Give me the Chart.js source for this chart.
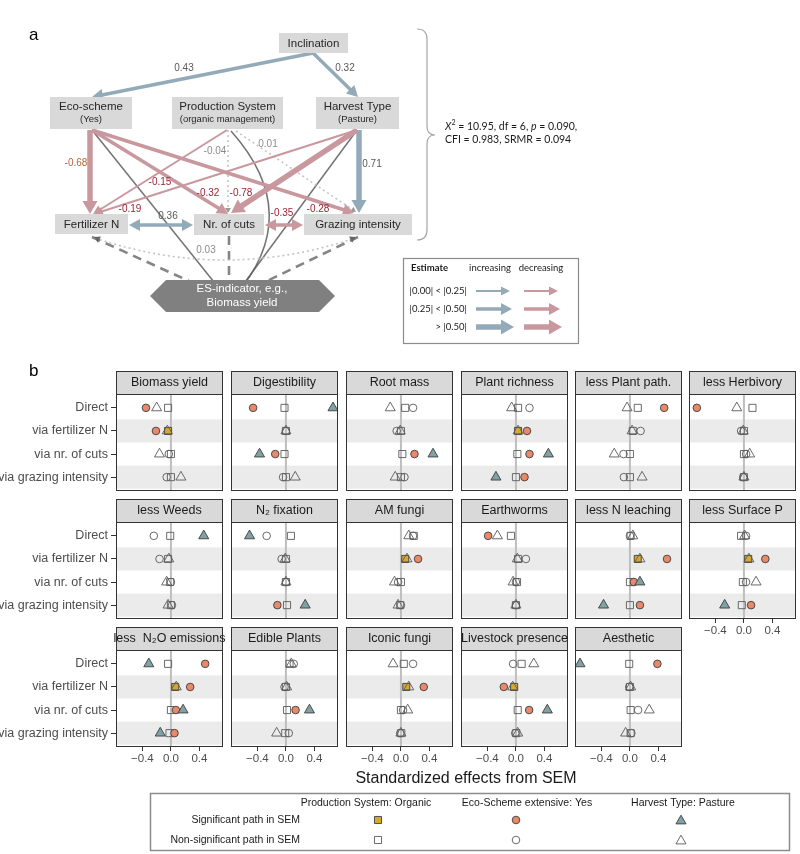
<!DOCTYPE html>
<html>
<head>
<meta charset="utf-8">
<script src="https://cdn.jsdelivr.net/npm/chart.js@4.4.1/dist/chart.umd.min.js"></script>
<style>
  body { margin: 0; background: #fff; width: 800px; height: 854px; position: relative; overflow: hidden; }
  canvas { position: absolute; }
</style>
</head>
<body>
<canvas id="page" width="800" height="854" style="left:0;top:0;width:800px;height:854px"></canvas>
<script>
const FONT = '"Liberation Sans", Arial, sans-serif';
const FIT_FONT = 'Lato, "Open Sans", sans-serif';

// ---- part a: SEM path estimates ----
const pathLabels = ['Incl-Eco', 'Incl-Harv', 'Eco-Fert', 'Eco-Cuts', 'Eco-Graz', 'Prod-Fert', 'Prod-Cuts', 'Prod-Graz', 'Harv-Fert', 'Harv-Cuts', 'Harv-Graz'];
const pathEstimates = [0.43, 0.32, -0.68, -0.32, -0.28, -0.15, -0.04, 0.01, -0.19, -0.78, 0.71];
const pathSig = [1, 1, 1, 1, 1, 1, 0, 0, 1, 1, 1];
const covLabels = ['Fert-Cuts', 'Cuts-Graz', 'Fert-Graz'];
const covEstimates = [0.36, -0.35, 0.03];
const covSig = [1, 1, 0];

// ---- part b: standardized effects ----
const rowLabels = ['Direct', 'via fertilizer N', 'via nr. of cuts', 'via grazing intensity'];
const services = ['Biomass yield', 'Digestibility', 'Root mass', 'Plant richness', 'less Plant path.', 'less Herbivory',
  'less Weeds', 'N\u2082 fixation', 'AM fungi', 'Earthworms', 'less N leaching', 'less Surface P',
  'less  N\u2082O emissions', 'Edible Plants', 'Iconic fungi', 'Livestock presence', 'Aesthetic'];
const xTicks = [-0.4, 0, 0.4];

// Production System: Organic (square)
const organicEff = [
  [-0.04, -0.04, 0.00, 0.00], [-0.02, 0.00, -0.02, 0.00], [0.06, 0.00, 0.02, 0.00], [0.03, 0.03, 0.02, 0.00],
  [0.11, 0.04, 0.00, 0.00], [0.12, 0.00, 0.00, 0.00], [-0.01, -0.04, -0.01, 0.00], [0.07, 0.00, 0.00, 0.015],
  [0.18, 0.06, 0.00, -0.01], [-0.07, 0.03, 0.015, 0.00], [0.01, 0.11, 0.00, 0.00], [-0.04, 0.06, -0.015, -0.03],
  [-0.04, 0.06, 0.00, -0.02], [0.05, 0.00, 0.015, -0.01], [0.04, 0.075, 0.00, 0.005], [0.08, -0.025, 0.025, 0.005],
  [-0.01, 0.00, 0.01, 0.01]
];
const organicSig = [
  [0, 1, 0, 0], [0, 0, 0, 0], [0, 0, 0, 0], [0, 1, 0, 0], [0, 0, 0, 0], [0, 0, 0, 0], [0, 0, 0, 0], [0, 0, 0, 0],
  [0, 1, 0, 0], [0, 0, 0, 0], [0, 1, 0, 0], [0, 1, 0, 0], [0, 1, 0, 0], [0, 0, 0, 0], [0, 1, 0, 0], [0, 1, 0, 0],
  [0, 0, 0, 0]
];
// Eco-Scheme extensive: Yes (circle)
const ecoEff = [
  [-0.35, -0.21, -0.03, -0.06], [-0.46, 0.00, -0.15, -0.04], [0.17, -0.06, 0.19, 0.05], [0.19, 0.155, 0.19, 0.12],
  [0.48, 0.15, -0.09, -0.085], [-0.66, -0.04, 0.03, -0.01], [-0.24, -0.16, 0.00, 0.015], [-0.27, -0.06, 0.00, -0.12],
  [0.17, 0.24, -0.04, 0.00], [-0.39, 0.14, 0.00, 0.00], [0.00, 0.52, 0.055, 0.14], [0.03, 0.30, 0.03, 0.10],
  [0.48, 0.27, 0.07, 0.05], [0.11, -0.02, 0.135, 0.04], [0.17, 0.32, 0.03, -0.01], [-0.04, -0.17, 0.185, -0.01],
  [0.385, -0.01, 0.115, 0.02]
];
const ecoSig = [
  [1, 1, 0, 0], [1, 0, 1, 0], [0, 0, 1, 0], [0, 1, 1, 1], [1, 0, 0, 0], [1, 0, 0, 0], [0, 0, 0, 0], [0, 0, 0, 1],
  [0, 1, 0, 0], [1, 0, 0, 0], [0, 1, 1, 1], [0, 1, 0, 1], [1, 1, 1, 1], [0, 0, 1, 0], [0, 1, 0, 0], [0, 1, 1, 0],
  [1, 0, 0, 0]
];
// Harvest Type: Pasture (triangle)
const pastureEff = [
  [-0.20, -0.05, -0.16, 0.14], [0.66, 0.00, -0.37, 0.13], [-0.15, -0.01, 0.45, -0.08], [-0.06, 0.03, 0.455, -0.28],
  [-0.04, 0.03, -0.22, 0.17], [-0.10, -0.01, 0.08, 0.00], [0.46, -0.03, -0.06, -0.04], [-0.51, -0.01, 0.00, 0.27],
  [0.11, 0.085, -0.09, -0.04], [-0.26, 0.02, -0.04, 0.00], [0.04, 0.14, 0.14, -0.37], [0.01, 0.07, 0.17, -0.27],
  [-0.31, 0.075, 0.17, -0.15], [0.075, 0.01, 0.33, -0.13], [-0.11, 0.11, 0.095, 0.00], [0.25, -0.045, 0.44, 0.025],
  [-0.70, 0.01, 0.27, -0.06]
];
const pastureSig = [
  [0, 0, 0, 0], [1, 0, 1, 0], [0, 0, 1, 0], [0, 0, 1, 1], [0, 0, 0, 0], [0, 0, 0, 0], [1, 0, 0, 0], [1, 0, 0, 1],
  [0, 0, 0, 0], [0, 0, 0, 0], [0, 0, 1, 1], [0, 0, 0, 1], [1, 0, 1, 1], [0, 0, 1, 0], [0, 0, 0, 0], [0, 0, 1, 0],
  [1, 0, 0, 0]
];

const COL_ORGANIC = '#d6a92c';
const COL_ECO = '#e8896a';
const COL_PASTURE = '#80a2a6';
const BLUE = '#93aab8';
const PINK = '#c9979e';

// ---------- drawing helpers for the diagram ----------
function head(ctx, x, y, ang, st) {
  const c = Math.cos(ang), s = Math.sin(ang);
  const bx = x - c * st.hl, by = y - s * st.hl;
  ctx.fillStyle = st.headColor || st.color;
  ctx.beginPath();
  ctx.moveTo(x, y);
  ctx.lineTo(bx - s * st.hw, by + c * st.hw);
  ctx.lineTo(bx + s * st.hw, by - c * st.hw);
  ctx.closePath();
  ctx.fill();
}

function arrow(ctx, x1, y1, x2, y2, st, both) {
  const ang = Math.atan2(y2 - y1, x2 - x1), c = Math.cos(ang), s = Math.sin(ang);
  const sx = both ? x1 + c * (st.hl - 1) : x1, sy = both ? y1 + s * (st.hl - 1) : y1;
  const ex = x2 - c * (st.hl - 1), ey = y2 - s * (st.hl - 1);
  ctx.strokeStyle = st.color;
  ctx.lineWidth = st.w;
  ctx.setLineDash(st.dash || []);
  ctx.beginPath();
  ctx.moveTo(sx, sy);
  ctx.lineTo(ex, ey);
  ctx.stroke();
  ctx.setLineDash([]);
  head(ctx, x2, y2, ang, st);
  if (both) head(ctx, x1, y1, ang + Math.PI, st);
}

function pathStyle(v, sig) {
  if (!sig) return { w: 1.6, color: '#c4c4c4', dash: [2, 3], hl: 5, hw: 3, headColor: '#9a9a9a' };
  const a = Math.abs(v);
  const color = v > 0 ? BLUE : PINK;
  if (a < 0.25) return { w: 2, color, hl: 9, hw: 4.5 };
  if (a < 0.5) return { w: 3.5, color, hl: 11, hw: 6 };
  return { w: 5.5, color, hl: 13, hw: 7.5 };
}

function labelColor(v, sig) {
  if (!sig) return '#8c8c8c';
  if (v > 0) return '#595959';
  return Math.abs(v) > 0.5 && Math.abs(v) < 0.7 ? '#c0622a' : '#9c2335';
}

function box(ctx, x, y, w, h, t1, t2) {
  ctx.fillStyle = '#d9d9d9';
  ctx.fillRect(x, y, w, h);
  ctx.fillStyle = '#262626';
  ctx.textAlign = 'center';
  ctx.textBaseline = 'middle';
  ctx.font = '11.5px ' + FONT;
  if (t2) {
    ctx.fillText(t1, x + w / 2, y + h / 2 - 6);
    ctx.font = '9.5px ' + FONT;
    ctx.fillText(t2, x + w / 2, y + h / 2 + 6);
  } else {
    ctx.fillText(t1, x + w / 2, y + h / 2 + 0.5);
  }
}

function richText(ctx, parts, x, y) {
  parts.forEach(p => {
    ctx.font = p.f;
    ctx.fillText(p.t, x, y + (p.dy || 0));
    x += ctx.measureText(p.t).width;
  });
}

function shape(ctx, style, r, x, y, fill, border) {
  ctx.fillStyle = fill;
  ctx.strokeStyle = border;
  ctx.lineWidth = 0.9;
  if (Chart.helpers && Chart.helpers.drawPoint) {
    Chart.helpers.drawPoint(ctx, { pointStyle: style, radius: r, rotation: 0, borderWidth: 0.9 }, x, y);
  }
}

function drawDiagram(ctx) {
  ctx.save();
  ctx.fillStyle = '#000';
  ctx.font = '17px ' + FONT;
  ctx.textAlign = 'left';
  ctx.textBaseline = 'middle';
  ctx.fillText('a', 29, 35);
  ctx.fillText('b', 29, 371);

  // lines towards the ES indicator
  const dark = { w: 1.5, color: 'rgba(90,90,90,0.85)', hl: 1, hw: 0 };
  arrow(ctx, 92, 130, 226, 297, dark);
  arrow(ctx, 357, 130, 234, 297, dark);
  ctx.strokeStyle = 'rgba(90,90,90,0.85)';
  ctx.lineWidth = 1.5;
  ctx.beginPath();
  ctx.moveTo(231, 131);
  ctx.quadraticCurveTo(306, 215, 234, 297);
  ctx.stroke();
  const dashed = { w: 2.6, color: '#858585', dash: [9, 6], hl: 7, hw: 4, headColor: '#555' };
  arrow(ctx, 92, 237, 222, 296, dashed);
  arrow(ctx, 229, 236, 229, 296, dashed);
  arrow(ctx, 358, 237, 236, 296, dashed);

  // dotted covariance arc Fertilizer N <-> Grazing intensity
  const cst = pathStyle(covEstimates[2], covSig[2]);
  ctx.strokeStyle = cst.color;
  ctx.lineWidth = 1.6;
  ctx.setLineDash([2, 3]);
  ctx.beginPath();
  ctx.moveTo(95, 238);
  ctx.quadraticCurveTo(225, 282, 355, 238);
  ctx.stroke();
  ctx.setLineDash([]);
  head(ctx, 94, 237, Math.atan2(-19, -40), { hl: 6, hw: 3.5, color: '#666' });
  head(ctx, 356, 237, Math.atan2(-19, 40), { hl: 6, hw: 3.5, color: '#666' });

  // regression paths: geometry in the order of pathLabels
  const geom = [
    [313, 53, 92, 97, 184, 68], [313, 53, 358, 97, 345, 68],
    [90, 130, 90, 214, 76, 163], [92, 130, 228, 214, 208, 193], [92, 130, 354, 213, 318, 209],
    [227, 130, 93, 214, 160, 182], [228, 130, 228, 213, 215, 151], [236, 131, 356, 212, 268, 144],
    [357, 130, 94, 214, 130, 209], [357, 130, 231, 213, 241, 193], [359, 130, 359, 213, 372, 164]
  ];
  // draw thin first so thick ones sit on top
  const orderIdx = pathEstimates.map((v, i) => i).sort((a, b) => Math.abs(pathEstimates[a]) - Math.abs(pathEstimates[b]));
  orderIdx.forEach(i => {
    const g = geom[i];
    arrow(ctx, g[0], g[1], g[2], g[3], pathStyle(pathEstimates[i], pathSig[i]));
  });
  // covariances
  arrow(ctx, 129, 225, 193, 225, pathStyle(covEstimates[0], covSig[0]), true);
  arrow(ctx, 265, 225, 303, 225, pathStyle(covEstimates[1], covSig[1]), true);

  // nodes
  box(ctx, 279, 33, 69, 20, 'Inclination');
  box(ctx, 50, 97, 82, 32, 'Eco-scheme', '(Yes)');
  box(ctx, 172, 97, 111, 32, 'Production System', '(organic management)');
  box(ctx, 316, 97, 83, 32, 'Harvest Type', '(Pasture)');
  box(ctx, 55, 214, 73, 20, 'Fertilizer N');
  box(ctx, 194, 214, 70, 21, 'Nr. of cuts');
  box(ctx, 304, 214, 108, 21, 'Grazing intensity');

  // ES indicator hexagon
  ctx.fillStyle = '#808080';
  ctx.beginPath();
  ctx.moveTo(150, 296); ctx.lineTo(166, 280); ctx.lineTo(319, 280);
  ctx.lineTo(335, 296); ctx.lineTo(319, 312); ctx.lineTo(166, 312);
  ctx.closePath();
  ctx.fill();
  ctx.fillStyle = '#fff';
  ctx.font = '11.5px ' + FONT;
  ctx.textAlign = 'center';
  ctx.fillText('ES-indicator, e.g.,', 242, 289);
  ctx.fillText('Biomass yield', 242, 303);

  // estimate labels
  ctx.font = '10px ' + FONT;
  pathEstimates.forEach((v, i) => {
    ctx.fillStyle = labelColor(v, pathSig[i]);
    ctx.fillText(v.toFixed(2), geom[i][4], geom[i][5]);
  });
  const covPos = [[168, 216], [282, 213], [206, 250]];
  covEstimates.forEach((v, i) => {
    ctx.fillStyle = labelColor(v, covSig[i]);
    ctx.fillText(v.toFixed(2), covPos[i][0], covPos[i][1]);
  });

  // brace
  ctx.strokeStyle = '#a6a6a6';
  ctx.lineWidth = 1.2;
  ctx.beginPath();
  ctx.moveTo(417, 29);
  ctx.quadraticCurveTo(427, 29, 427, 39);
  ctx.lineTo(427, 126);
  ctx.quadraticCurveTo(427, 135, 435, 135);
  ctx.quadraticCurveTo(427, 135, 427, 144);
  ctx.lineTo(427, 230);
  ctx.quadraticCurveTo(427, 240, 417, 240);
  ctx.stroke();

  // fit statistics
  ctx.fillStyle = '#1a1a1a';
  ctx.textAlign = 'left';
  const n = '10.5px ' + FIT_FONT, it = 'italic 10.5px ' + FIT_FONT;
  richText(ctx, [{ t: 'X', f: it }, { t: '2', f: '7px ' + FIT_FONT, dy: -4 }, { t: ' = 10.95, df = 6, ', f: n },
    { t: 'p', f: it }, { t: ' = 0.090,', f: n }], 445, 127);
  richText(ctx, [{ t: 'CFI = 0.983, SRMR = 0.094', f: n }], 445, 140);

  // estimate legend
  ctx.strokeStyle = '#8c8c8c';
  ctx.lineWidth = 1.2;
  ctx.strokeRect(403.5, 258.5, 175, 85);
  ctx.font = 'bold 9.5px ' + FIT_FONT;
  ctx.fillText('Estimate', 411, 268);
  ctx.font = '9.5px ' + FIT_FONT;
  ctx.textAlign = 'center';
  ctx.fillText('increasing', 490, 268);
  ctx.fillText('decreasing', 541, 268);
  ctx.textAlign = 'right';
  const legRows = ['|0.00| < |0.25|', '|0.25| < |0.50|', '> |0.50|'];
  const legVals = [0.2, 0.4, 0.6];
  const legY = [291, 309, 327];
  legRows.forEach((t, k) => {
    ctx.fillStyle = '#1a1a1a';
    ctx.font = '9.5px ' + FIT_FONT;
    ctx.fillText(t, 467, legY[k]);
    const up = pathStyle(legVals[k], 1), down = pathStyle(-legVals[k], 1);
    arrow(ctx, 476, legY[k], 476 + 25 + up.hl, legY[k], up);
    arrow(ctx, 524, legY[k], 524 + 25 + down.hl, legY[k], down);
  });
  ctx.restore();
}

function drawBottom(ctx) {
  ctx.save();
  ctx.fillStyle = '#1a1a1a';
  ctx.textAlign = 'center';
  ctx.textBaseline = 'middle';
  ctx.font = '16px ' + FONT;
  ctx.fillText('Standardized effects from SEM', 466, 779);

  ctx.strokeStyle = '#8c8c8c';
  ctx.lineWidth = 1.5;
  ctx.strokeRect(150.5, 793.5, 639, 57);
  ctx.font = '10.5px ' + FONT;
  const heads = ['Production System: Organic', 'Eco-Scheme extensive: Yes', 'Harvest Type: Pasture'];
  const hx = [366, 527, 683];
  heads.forEach((h, k) => ctx.fillText(h, hx[k], 803));
  ctx.textAlign = 'right';
  ctx.fillText('Significant path in SEM', 300, 820);
  ctx.fillText('Non-significant path in SEM', 300, 840);
  shape(ctx, 'rect', 5, 378, 820, COL_ORGANIC, '#3d3d3d');
  shape(ctx, 'rect', 5, 378, 840, 'rgba(255,255,255,0)', '#5a5a5a');
  shape(ctx, 'circle', 3.8, 516, 820, COL_ECO, '#3d3d3d');
  shape(ctx, 'circle', 3.8, 516, 840, 'rgba(255,255,255,0)', '#5a5a5a');
  shape(ctx, 'triangle', 5.8, 681, 821, COL_PASTURE, '#3d3d3d');
  shape(ctx, 'triangle', 5.8, 681, 841, 'rgba(255,255,255,0)', '#5a5a5a');
  ctx.restore();
}

new Chart(document.getElementById('page'), {
  type: 'scatter',
  data: { datasets: [] },
  options: {
    responsive: false, maintainAspectRatio: false, animation: false, events: [],
    layout: { padding: 0, autoPadding: false },
    plugins: { legend: { display: false }, tooltip: { enabled: false } },
    scales: { x: { display: false }, y: { display: false } }
  },
  plugins: [{
    id: 'diagram',
    afterDraw(chart) {
      drawDiagram(chart.ctx);
      drawBottom(chart.ctx);
    }
  }]
});

// ---------- part b panels ----------
const colLeft = [116, 231, 346, 461, 575, 689];
const stripTop = [371, 499, 627];
const panelW = 107, stripH = 23, bodyH = 97;
const xMin = -0.77, xMax = 0.73;

const panelDecor = {
  id: 'panelDecor',
  beforeDatasetsDraw(chart) {
    const { ctx, chartArea: a, scales: { x, y } } = chart;
    ctx.save();
    ctx.fillStyle = '#ffffff';
    ctx.fillRect(a.left, a.top, a.width, a.height);
    ctx.fillStyle = '#ebebeb';
    [2, 4].forEach(k => {
      const t = y.getPixelForValue(k - 0.5), b = y.getPixelForValue(k + 0.5);
      ctx.fillRect(a.left, t, a.width, b - t);
    });
    const zx = x.getPixelForValue(0);
    ctx.strokeStyle = '#bebebe';
    ctx.lineWidth = 2;
    ctx.beginPath();
    ctx.moveTo(zx, a.top);
    ctx.lineTo(zx, a.bottom);
    ctx.stroke();
    ctx.restore();
  },
  afterDraw(chart, args, opts) {
    const { ctx, chartArea: a } = chart;
    ctx.save();
    ctx.strokeStyle = '#333333';
    ctx.lineWidth = 1;
    ctx.strokeRect(a.left + 0.5, a.top + 0.5, a.width - 1, a.height - 1);
    ctx.fillStyle = '#d9d9d9';
    ctx.fillRect(a.left, a.top - stripH, a.width, stripH);
    ctx.strokeRect(a.left + 0.5, a.top - stripH + 0.5, a.width - 1, stripH);
    ctx.fillStyle = '#1a1a1a';
    ctx.font = '12.5px ' + FONT;
    ctx.textAlign = 'center';
    ctx.textBaseline = 'middle';
    ctx.fillText(opts.label, (a.left + a.right) / 2, a.top - stripH / 2 + 0.5);
    ctx.restore();
  }
};

function markerSet(vals, sig, style, fill, radius, order) {
  return {
    data: vals.map((v, k) => ({ x: v, y: k + 1 })),
    pointStyle: style,
    pointRadius: radius,
    pointHoverRadius: radius,
    pointBackgroundColor: sig.map(s => s ? fill : 'rgba(255,255,255,0)'),
    pointBorderColor: sig.map(s => s ? '#3d3d3d' : '#5a5a5a'),
    pointBorderWidth: 0.9,
    showLine: false,
    order
  };
}

function fmtTick(v) {
  return (v < 0 ? '\u2212' : '') + Math.abs(v).toFixed(1);
}

services.forEach((name, i) => {
  const row = i < 12 ? Math.floor(i / 6) : 2;
  const col = i < 12 ? i % 6 : i - 12;
  const first = col === 0;
  const bottom = row === 2 || (row === 1 && col === 5);
  const leftW = first ? 116 : 2;
  const w = leftW + panelW + 2;
  const h = 1 + stripH + bodyH + (bottom ? 24 : 2);
  const cv = document.createElement('canvas');
  cv.width = w;
  cv.height = h;
  cv.style.left = (colLeft[col] - leftW) + 'px';
  cv.style.top = (stripTop[row] - 1) + 'px';
  cv.style.width = w + 'px';
  cv.style.height = h + 'px';
  document.body.appendChild(cv);

  new Chart(cv, {
    type: 'scatter',
    data: {
      datasets: [
        markerSet(pastureEff[i], pastureSig[i], 'triangle', COL_PASTURE, 5.8, 1),
        markerSet(ecoEff[i], ecoSig[i], 'circle', COL_ECO, 3.8, 2),
        markerSet(organicEff[i], organicSig[i], 'rect', COL_ORGANIC, 5, 3)
      ]
    },
    options: {
      responsive: false, maintainAspectRatio: false, animation: false, events: [],
      layout: { autoPadding: false, padding: { top: 1 + stripH, left: first ? 0 : 2, right: 2, bottom: bottom ? 0 : 2 } },
      plugins: { legend: { display: false }, tooltip: { enabled: false }, panelDecor: { label: name } },
      scales: {
        x: {
          type: 'linear', min: xMin, max: xMax, display: bottom,
          afterBuildTicks: s => { s.ticks = xTicks.map(v => ({ value: v })); },
          afterFit: s => { s.height = bottom ? 24 : 0; s.paddingLeft = 0; s.paddingRight = 0; },
          ticks: { callback: v => fmtTick(v), color: '#4d4d4d', font: { size: 11.5, family: FONT }, padding: 1, maxRotation: 0, autoSkip: false },
          grid: { drawOnChartArea: false, drawTicks: true, tickLength: 4, color: '#333333' },
          border: { display: false }
        },
        y: {
          type: 'linear', min: 0.4, max: 4.6, reverse: true, display: first,
          afterBuildTicks: s => { s.ticks = rowLabels.map((t, k) => ({ value: k + 1 })); },
          afterFit: s => { s.width = first ? 116 : 0; s.paddingTop = 0; s.paddingBottom = 0; },
          ticks: { callback: v => rowLabels[Math.round(v) - 1], color: '#4d4d4d', font: { size: 12.5, family: FONT }, padding: 3, autoSkip: false },
          grid: { drawOnChartArea: false, drawTicks: true, tickLength: 5, color: '#333333' },
          border: { display: false }
        }
      }
    },
    plugins: [panelDecor]
  });
});
</script>
</body>
</html>
